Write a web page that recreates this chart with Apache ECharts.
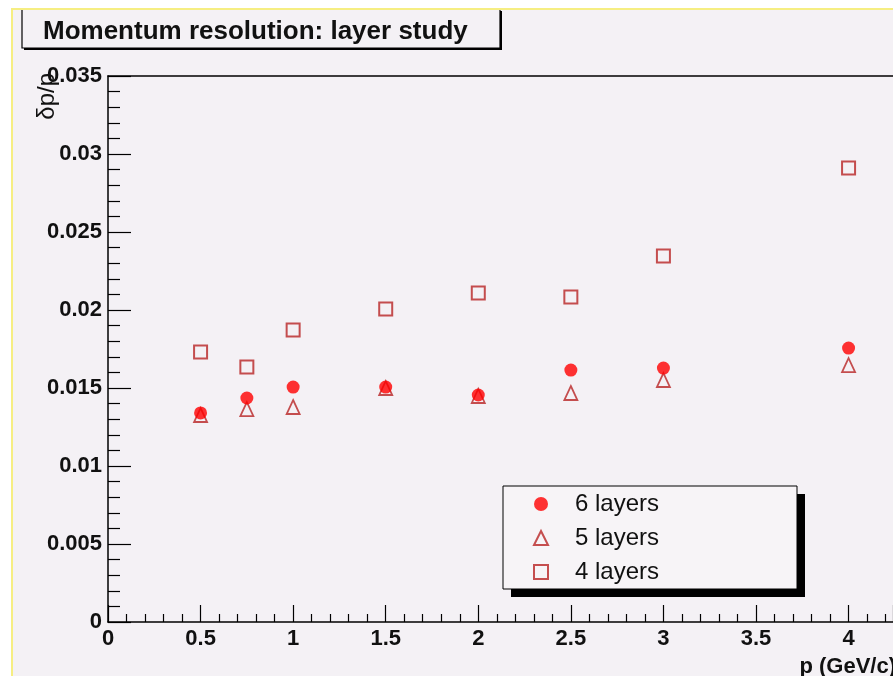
<!DOCTYPE html>
<html><head><meta charset="utf-8">
<script src="https://cdn.jsdelivr.net/npm/echarts@6/dist/echarts.min.js"></script>
<style>html,body{margin:0;padding:0;background:#fff}#c{width:893px;height:676px}</style>
</head><body><div id="c"></div>
<script>
// ---- data ----
const momentum = [0.5, 0.75, 1, 1.5, 2, 2.5, 3, 4];
const res6 = [0.0134, 0.01436, 0.01506, 0.01506, 0.01455, 0.01615, 0.01628, 0.01756];
const res5 = [0.01327, 0.01365, 0.01378, 0.0150, 0.01449, 0.01468, 0.01551, 0.01647];
const res4 = [0.01731, 0.01635, 0.01872, 0.02006, 0.02109, 0.02083, 0.02346, 0.0291];
const seriesNames = ['6 layers', '5 layers', '4 layers'];
const titleText = 'Momentum resolution: layer study';
const xTitle = 'p (GeV/c)';
const yTitle = 'δp/p';

const FONT = 'Liberation Sans, Arial, Helvetica, sans-serif';
const BG = '#f4f1f5';
const pairs = arr => momentum.map((x, i) => [x, arr[i]]);

const chart = echarts.init(document.getElementById('c'), null, {renderer: 'canvas'});
chart.setOption({
  animation: false,
  backgroundColor: BG,
  title: {
    text: titleText, left: 43, top: 19, padding: 0,
    textStyle: {fontSize: 26, fontWeight: 'bold', fontFamily: FONT, color: '#111'}
  },
  grid: {left: 108, right: 0, top: 76, bottom: 54, outerBoundsMode: 'none', containLabel: false},
  legend: {
    orient: 'vertical', left: 533, top: 492, padding: 0,
    itemWidth: 14, itemHeight: 14, itemGap: 10, selectedMode: false, z: 10,
    data: seriesNames,
    textStyle: {fontSize: 24, fontFamily: FONT, color: '#111', lineHeight: 24, padding: [0, 0, 0, 22]}
  },
  xAxis: [{
    type: 'value', min: 0, max: 4.24, interval: 0.5,
    name: xTitle, nameLocation: 'end', nameGap: 3,
    nameTextStyle: {fontSize: 22, fontWeight: 'bold', fontFamily: FONT, color: '#111', align: 'right', verticalAlign: 'top', padding: [34, 0, 0, 0]},
    axisLine: {show: true, onZero: false, lineStyle: {color: '#000', width: 1.5}},
    axisTick: {show: true, inside: true, length: 17, lineStyle: {color: '#000', width: 1.2}},
    minorTick: {show: true, splitNumber: 5, length: 8, lineStyle: {color: '#000', width: 1.2}},
    axisLabel: {show: true, margin: 6, showMaxLabel: false, fontSize: 22, fontWeight: 'bold', fontFamily: FONT, color: '#111'},
    splitLine: {show: false}
  }, {
    type: 'value', position: 'top', min: 0, max: 4.24,
    axisLine: {show: true, onZero: false, lineStyle: {color: '#000', width: 1.5}},
    axisTick: {show: false}, axisLabel: {show: false}, splitLine: {show: false}
  }],
  yAxis: {
    type: 'value', min: 0, max: 0.035, interval: 0.005,
    axisLine: {show: true, onZero: false, lineStyle: {color: '#000', width: 1.5}},
    axisTick: {show: true, inside: true, length: 23, lineStyle: {color: '#000', width: 1.2}},
    minorTick: {show: true, splitNumber: 5, length: 12, lineStyle: {color: '#000', width: 1.2}},
    axisLabel: {show: true, margin: 6, fontSize: 22, fontWeight: 'bold', fontFamily: FONT, color: '#111'},
    splitLine: {show: false}
  },
  series: [{
    name: seriesNames[2], type: 'scatter', data: pairs(res4),
    symbol: 'rect', symbolSize: 13,
    itemStyle: {color: 'rgba(0,0,0,0)', borderColor: '#b82424', borderWidth: 2}
  }, {
    name: seriesNames[1], type: 'scatter', data: pairs(res5),
    symbol: 'triangle', symbolSize: [13, 14],
    itemStyle: {color: 'rgba(0,0,0,0)', borderColor: '#b82424', borderWidth: 1.8}
  }, {
    name: seriesNames[0], type: 'scatter', data: pairs(res6),
    symbol: 'circle', symbolSize: 13,
    itemStyle: {color: '#ff0000'}
  }],
  graphic: [
    {type: 'rect', shape: {x: 0, y: 0, width: 893, height: 8}, style: {fill: '#fff'}, silent: true},
    {type: 'rect', shape: {x: 0, y: 0, width: 11, height: 676}, style: {fill: '#fff'}, silent: true},
    {type: 'rect', shape: {x: 24, y: 11, width: 478, height: 39}, style: {fill: '#000'}, silent: true},
    {type: 'rect', shape: {x: 22, y: 9, width: 478, height: 39}, style: {fill: BG, stroke: '#000', lineWidth: 1.2}, silent: true},
    {type: 'line', shape: {x1: 11, y1: 9, x2: 893, y2: 9}, style: {stroke: '#f6ee82', lineWidth: 2}, silent: true},
    {type: 'line', shape: {x1: 12, y1: 8, x2: 12, y2: 676}, style: {stroke: '#f6ee82', lineWidth: 2}, silent: true},
    {type: 'rect', shape: {x: 511, y: 494, width: 294, height: 103}, style: {fill: '#000'}, silent: true, z: 5},
    {type: 'rect', shape: {x: 503, y: 486, width: 294, height: 103}, style: {fill: '#f7f4f7', stroke: '#000', lineWidth: 1}, silent: true, z: 6},
    {type: 'text', x: 47, y: 73, rotation: Math.PI / 2, silent: true,
     style: {text: yTitle, fontSize: 24, fontFamily: FONT, fill: '#111', align: 'right', verticalAlign: 'middle'}}
  ]
});
</script>
</body></html>
